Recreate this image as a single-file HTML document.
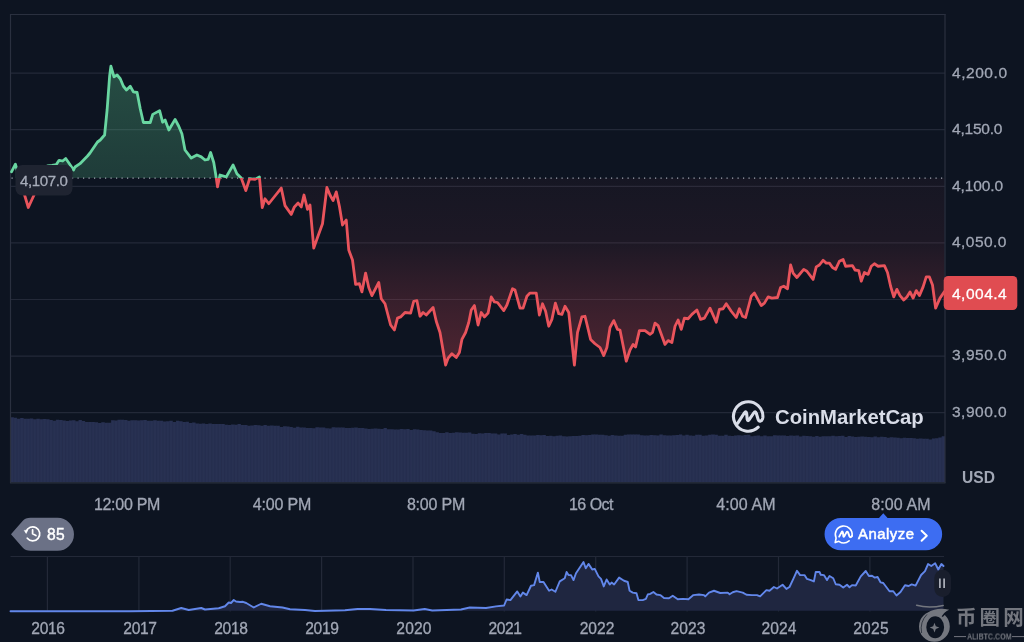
<!DOCTYPE html>
<html lang="en">
<head>
<meta charset="utf-8">
<title>Chart</title>
<style>
html,body{margin:0;padding:0;background:#0d1421;}
body{width:1024px;height:642px;overflow:hidden;position:relative;font-family:"Liberation Sans","Noto Sans CJK SC",sans-serif;}
#chart{position:absolute;left:0;top:0;width:1024px;height:642px;}
.t{position:absolute;white-space:nowrap;color:#a1a7b5;line-height:1;will-change:transform;-webkit-text-stroke:0.3px #a1a7b5;}
.yl{left:951.6px;font-size:15.5px;transform:translateY(-50%);}
.xl{top:505.2px;font-size:16px;transform:translate(-50%,-50%);}
.yr{top:629.0px;font-size:15.6px;transform:translate(-50%,-50%);}
</style>
</head>
<body>
<svg id="chart" width="1024" height="642" viewBox="0 0 1024 642">
<defs>
<linearGradient id="gg" gradientUnits="userSpaceOnUse" x1="0" y1="66" x2="0" y2="178">
<stop offset="0" stop-color="#5fcd91" stop-opacity="0.31"/>
<stop offset="1" stop-color="#5fcd91" stop-opacity="0.215"/>
</linearGradient>
<linearGradient id="rg" gradientUnits="userSpaceOnUse" x1="0" y1="178" x2="0" y2="366">
<stop offset="0" stop-color="#ea4c58" stop-opacity="0.04"/>
<stop offset="0.35" stop-color="#ea4c58" stop-opacity="0.075"/>
<stop offset="0.65" stop-color="#ea4c58" stop-opacity="0.19"/>
<stop offset="1" stop-color="#ea4c58" stop-opacity="0.30"/>
</linearGradient>
<clipPath id="cu"><rect x="0" y="0" width="1024" height="178.1"/></clipPath>
<clipPath id="cv"><path d="M10.5 482 L10.50 417.22 L13.74 417.22 L13.74 417.83 L16.99 417.83 L16.99 418.67 L20.23 418.67 L20.23 418.00 L23.48 418.00 L23.48 418.79 L26.72 418.79 L26.72 418.69 L29.97 418.69 L29.97 418.40 L33.21 418.40 L33.21 419.17 L36.46 419.17 L36.46 418.65 L39.70 418.65 L39.70 419.35 L42.95 419.35 L42.95 418.98 L46.19 418.98 L46.19 419.36 L49.44 419.36 L49.44 420.11 L52.68 420.11 L52.68 420.71 L55.93 420.71 L55.93 419.76 L59.17 419.76 L59.17 419.94 L62.42 419.94 L62.42 420.54 L65.66 420.54 L65.66 421.02 L68.91 421.02 L68.91 420.54 L72.15 420.54 L72.15 420.33 L75.40 420.33 L75.40 421.18 L78.64 421.18 L78.64 419.91 L81.89 419.91 L81.89 421.08 L85.13 421.08 L85.13 422.06 L88.38 422.06 L88.38 422.10 L91.62 422.10 L91.62 422.06 L94.86 422.06 L94.86 422.33 L98.11 422.33 L98.11 423.04 L101.35 423.04 L101.35 422.15 L104.60 422.15 L104.60 422.71 L107.84 422.71 L107.84 422.79 L111.09 422.79 L111.09 420.22 L114.33 420.22 L114.33 420.47 L117.58 420.47 L117.58 419.79 L120.82 419.79 L120.82 419.78 L124.07 419.78 L124.07 419.99 L127.31 419.99 L127.31 420.65 L130.56 420.65 L130.56 420.30 L133.80 420.30 L133.80 420.14 L137.05 420.14 L137.05 420.52 L140.29 420.52 L140.29 420.33 L143.54 420.33 L143.54 420.12 L146.78 420.12 L146.78 420.81 L150.03 420.81 L150.03 420.74 L153.27 420.74 L153.27 420.21 L156.52 420.21 L156.52 420.78 L159.76 420.78 L159.76 420.83 L163.01 420.83 L163.01 421.43 L166.25 421.43 L166.25 421.33 L169.49 421.33 L169.49 420.83 L172.74 420.83 L172.74 421.91 L175.98 421.91 L175.98 420.81 L179.23 420.81 L179.23 421.34 L182.47 421.34 L182.47 421.93 L185.72 421.93 L185.72 421.77 L188.96 421.77 L188.96 423.00 L192.21 423.00 L192.21 422.48 L195.45 422.48 L195.45 423.47 L198.70 423.47 L198.70 423.71 L201.94 423.71 L201.94 423.55 L205.19 423.55 L205.19 424.09 L208.43 424.09 L208.43 423.41 L211.68 423.41 L211.68 424.05 L214.92 424.05 L214.92 424.02 L218.17 424.02 L218.17 424.10 L221.41 424.10 L221.41 424.04 L224.66 424.04 L224.66 424.69 L227.90 424.69 L227.90 424.94 L231.15 424.94 L231.15 424.39 L234.39 424.39 L234.39 424.76 L237.64 424.76 L237.64 424.03 L240.88 424.03 L240.88 425.03 L244.12 425.03 L244.12 425.06 L247.37 425.06 L247.37 425.66 L250.61 425.66 L250.61 425.56 L253.86 425.56 L253.86 424.97 L257.10 424.97 L257.10 425.28 L260.35 425.28 L260.35 425.83 L263.59 425.83 L263.59 425.09 L266.84 425.09 L266.84 425.87 L270.08 425.87 L270.08 425.62 L273.33 425.62 L273.33 425.71 L276.57 425.71 L276.57 425.79 L279.82 425.79 L279.82 426.95 L283.06 426.95 L283.06 426.22 L286.31 426.22 L286.31 426.54 L289.55 426.54 L289.55 426.91 L292.80 426.91 L292.80 427.74 L296.04 427.74 L296.04 426.80 L299.29 426.80 L299.29 427.44 L302.53 427.44 L302.53 427.61 L305.78 427.61 L305.78 428.11 L309.02 428.11 L309.02 428.05 L312.27 428.05 L312.27 428.15 L315.51 428.15 L315.51 427.36 L318.76 427.36 L318.76 427.59 L322.00 427.59 L322.00 427.54 L325.24 427.54 L325.24 428.31 L328.49 428.31 L328.49 428.44 L331.73 428.44 L331.73 427.34 L334.98 427.34 L334.98 427.41 L338.22 427.41 L338.22 427.52 L341.47 427.52 L341.47 427.56 L344.71 427.56 L344.71 427.94 L347.96 427.94 L347.96 428.12 L351.20 428.12 L351.20 427.72 L354.45 427.72 L354.45 427.43 L357.69 427.43 L357.69 428.07 L360.94 428.07 L360.94 428.07 L364.18 428.07 L364.18 428.41 L367.43 428.41 L367.43 429.02 L370.67 429.02 L370.67 428.71 L373.92 428.71 L373.92 428.53 L377.16 428.53 L377.16 428.74 L380.41 428.74 L380.41 428.89 L383.65 428.89 L383.65 428.08 L386.90 428.08 L386.90 429.33 L390.14 429.33 L390.14 429.23 L393.39 429.23 L393.39 429.42 L396.63 429.42 L396.63 429.38 L399.88 429.38 L399.88 428.95 L403.12 428.95 L403.12 429.17 L406.36 429.17 L406.36 428.98 L409.61 428.98 L409.61 429.94 L412.85 429.94 L412.85 429.35 L416.10 429.35 L416.10 429.58 L419.34 429.58 L419.34 429.99 L422.59 429.99 L422.59 430.14 L425.83 430.14 L425.83 430.61 L429.08 430.61 L429.08 430.55 L432.32 430.55 L432.32 431.29 L435.57 431.29 L435.57 432.31 L438.81 432.31 L438.81 432.90 L442.06 432.90 L442.06 432.94 L445.30 432.94 L445.30 432.14 L448.55 432.14 L448.55 433.03 L451.79 433.03 L451.79 432.76 L455.04 432.76 L455.04 432.21 L458.28 432.21 L458.28 432.45 L461.53 432.45 L461.53 432.68 L464.77 432.68 L464.77 432.80 L468.02 432.80 L468.02 432.56 L471.26 432.56 L471.26 433.67 L474.51 433.67 L474.51 433.97 L477.75 433.97 L477.75 433.33 L480.99 433.33 L480.99 433.46 L484.24 433.46 L484.24 433.00 L487.48 433.00 L487.48 433.12 L490.73 433.12 L490.73 433.55 L493.97 433.55 L493.97 433.54 L497.22 433.54 L497.22 434.43 L500.46 434.43 L500.46 433.60 L503.71 433.60 L503.71 433.51 L506.95 433.51 L506.95 434.92 L510.20 434.92 L510.20 434.43 L513.44 434.43 L513.44 434.01 L516.69 434.01 L516.69 434.67 L519.93 434.67 L519.93 434.06 L523.18 434.06 L523.18 434.87 L526.42 434.87 L526.42 435.60 L529.67 435.60 L529.67 435.55 L532.91 435.55 L532.91 435.43 L536.16 435.43 L536.16 434.92 L539.40 434.92 L539.40 435.18 L542.65 435.18 L542.65 435.01 L545.89 435.01 L545.89 435.96 L549.14 435.96 L549.14 435.74 L552.38 435.74 L552.38 436.19 L555.62 436.19 L555.62 435.67 L558.87 435.67 L558.87 435.60 L562.11 435.60 L562.11 436.34 L565.36 436.34 L565.36 436.50 L568.60 436.50 L568.60 436.24 L571.85 436.24 L571.85 436.09 L575.09 436.09 L575.09 436.03 L578.34 436.03 L578.34 435.84 L581.58 435.84 L581.58 435.04 L584.83 435.04 L584.83 435.36 L588.07 435.36 L588.07 435.06 L591.32 435.06 L591.32 434.52 L594.56 434.52 L594.56 434.43 L597.81 434.43 L597.81 434.71 L601.05 434.71 L601.05 434.66 L604.30 434.66 L604.30 435.27 L607.54 435.27 L607.54 435.64 L610.79 435.64 L610.79 434.93 L614.03 434.93 L614.03 435.61 L617.28 435.61 L617.28 435.68 L620.52 435.68 L620.52 435.64 L623.77 435.64 L623.77 434.81 L627.01 434.81 L627.01 434.61 L630.26 434.61 L630.26 434.62 L633.50 434.62 L633.50 434.58 L636.74 434.58 L636.74 434.59 L639.99 434.59 L639.99 435.17 L643.23 435.17 L643.23 435.56 L646.48 435.56 L646.48 435.48 L649.72 435.48 L649.72 434.97 L652.97 434.97 L652.97 435.21 L656.21 435.21 L656.21 435.42 L659.46 435.42 L659.46 434.42 L662.70 434.42 L662.70 435.22 L665.95 435.22 L665.95 435.57 L669.19 435.57 L669.19 435.40 L672.44 435.40 L672.44 435.35 L675.68 435.35 L675.68 434.97 L678.93 434.97 L678.93 434.55 L682.17 434.55 L682.17 435.40 L685.42 435.40 L685.42 434.77 L688.66 434.77 L688.66 435.42 L691.91 435.42 L691.91 435.66 L695.15 435.66 L695.15 434.85 L698.40 434.85 L698.40 434.86 L701.64 434.86 L701.64 435.66 L704.89 435.66 L704.89 435.38 L708.13 435.38 L708.13 434.64 L711.37 434.64 L711.38 434.61 L714.62 434.61 L714.62 434.67 L717.86 434.67 L717.86 435.76 L721.11 435.76 L721.11 435.66 L724.35 435.66 L724.35 434.76 L727.60 434.76 L727.60 435.75 L730.84 435.75 L730.84 436.00 L734.09 436.00 L734.09 435.58 L737.33 435.58 L737.33 435.18 L740.58 435.18 L740.58 435.49 L743.82 435.49 L743.82 434.94 L747.07 434.94 L747.07 434.81 L750.31 434.81 L750.31 436.18 L753.56 436.18 L753.56 435.76 L756.80 435.76 L756.80 435.62 L760.05 435.62 L760.05 436.22 L763.29 436.22 L763.29 435.56 L766.54 435.56 L766.54 436.20 L769.78 436.20 L769.78 436.17 L773.03 436.17 L773.03 435.34 L776.27 435.34 L776.27 435.43 L779.52 435.43 L779.52 435.52 L782.76 435.52 L782.76 435.48 L786.01 435.48 L786.01 436.00 L789.25 436.00 L789.25 435.57 L792.49 435.57 L792.49 435.83 L795.74 435.83 L795.74 435.46 L798.98 435.46 L798.98 436.58 L802.23 436.58 L802.23 435.83 L805.47 435.83 L805.47 436.01 L808.72 436.01 L808.72 436.22 L811.96 436.22 L811.96 436.70 L815.21 436.70 L815.21 436.06 L818.45 436.06 L818.45 436.79 L821.70 436.79 L821.70 436.24 L824.94 436.24 L824.94 436.31 L828.19 436.31 L828.19 436.33 L831.43 436.33 L831.43 435.66 L834.68 435.66 L834.68 436.28 L837.92 436.28 L837.92 435.95 L841.17 435.95 L841.17 435.73 L844.41 435.73 L844.41 436.88 L847.66 436.88 L847.66 436.03 L850.90 436.03 L850.90 436.51 L854.15 436.51 L854.15 436.93 L857.39 436.93 L857.39 436.76 L860.64 436.76 L860.64 436.50 L863.88 436.50 L863.88 436.84 L867.12 436.84 L867.12 436.95 L870.37 436.95 L870.37 437.34 L873.61 437.34 L873.61 436.45 L876.86 436.45 L876.86 437.15 L880.10 437.15 L880.10 436.78 L883.35 436.78 L883.35 436.89 L886.59 436.89 L886.59 437.65 L889.84 437.65 L889.84 437.34 L893.08 437.34 L893.08 437.48 L896.33 437.48 L896.33 437.82 L899.57 437.82 L899.57 438.14 L902.82 438.14 L902.82 437.64 L906.06 437.64 L906.06 438.04 L909.31 438.04 L909.31 438.05 L912.55 438.05 L912.55 438.23 L915.80 438.23 L915.80 438.64 L919.04 438.64 L919.04 438.47 L922.29 438.47 L922.29 438.74 L925.53 438.74 L925.53 438.83 L928.78 438.83 L928.78 439.54 L932.02 439.54 L932.02 438.55 L935.27 438.55 L935.27 438.15 L938.51 438.15 L938.51 437.61 L941.76 437.61 L941.76 436.33 L945.00 436.33 L945 482 Z"/></clipPath>
<clipPath id="cd"><rect x="0" y="178.1" width="1024" height="400"/></clipPath>
</defs>
<rect width="1024" height="642" fill="#0d1421"/>
<g stroke="#232938" stroke-width="1.2" fill="none"><line x1="10" y1="73.1" x2="945" y2="73.1"/><line x1="10" y1="129.7" x2="945" y2="129.7"/><line x1="10" y1="186.3" x2="945" y2="186.3"/><line x1="10" y1="242.9" x2="945" y2="242.9"/><line x1="10" y1="299.5" x2="945" y2="299.5"/><line x1="10" y1="356.1" x2="945" y2="356.1"/><line x1="10" y1="412.7" x2="945" y2="412.7"/></g>
<path d="M15.40 178.10 L15.40 164.20 L28.30 207.50 L34.50 194.00 L47.50 166.00 L52.00 165.40 L56.30 164.60 L59.10 160.30 L62.70 161.00 L65.70 158.50 L68.20 162.00 L73.60 170.00 L75.00 167.00 L80.00 163.70 L87.50 156.00 L90.00 153.00 L97.50 142.00 L100.25 140.00 L104.60 135.00 L107.10 110.00 L109.60 76.25 L110.90 66.25 L114.00 76.90 L117.10 75.00 L120.25 78.75 L123.40 86.25 L126.50 90.00 L130.25 86.25 L133.40 91.90 L137.10 92.50 L140.25 108.75 L143.40 122.50 L150.25 122.50 L152.75 114.40 L159.60 110.60 L162.60 122.20 L165.10 120.00 L168.85 130.00 L175.10 119.40 L178.75 126.25 L181.90 133.75 L185.00 150.00 L191.25 158.10 L196.90 155.00 L201.25 156.90 L205.00 160.00 L208.10 159.40 L210.60 152.50 L213.75 162.50 L215.60 173.75 L216.25 178.10 L217.50 186.90 L220.00 175.00 L226.25 176.90 L233.10 165.00 L236.90 173.75 L241.25 178.10 L245.80 190.60 L249.60 178.75 L255.00 179.40 L259.40 176.90 L262.25 207.50 L265.00 198.75 L268.75 203.75 L273.75 197.50 L281.25 188.10 L285.00 205.60 L291.25 214.40 L294.40 206.90 L298.10 203.10 L301.25 206.90 L304.00 195.00 L307.50 209.40 L310.00 205.00 L313.75 248.10 L317.50 237.50 L322.50 223.75 L326.90 187.50 L330.00 195.00 L333.10 200.60 L336.25 191.90 L339.40 206.25 L342.50 225.00 L346.25 220.00 L348.75 250.00 L352.50 260.00 L355.60 284.40 L359.40 283.75 L361.90 291.90 L365.60 273.10 L368.75 287.50 L371.90 295.60 L378.75 282.50 L381.25 298.75 L385.00 303.75 L390.60 325.00 L394.40 330.00 L397.50 318.10 L400.60 316.90 L405.00 312.50 L410.60 313.10 L413.75 301.25 L416.90 300.60 L420.00 316.25 L423.10 312.50 L426.25 315.00 L433.10 307.50 L436.25 321.25 L440.00 332.50 L445.60 365.00 L448.10 358.10 L451.90 353.75 L456.25 357.50 L459.40 352.50 L461.90 339.40 L465.60 332.50 L468.75 322.50 L471.25 310.00 L474.40 305.60 L478.10 325.00 L481.25 312.50 L484.40 316.90 L488.10 313.10 L491.25 296.90 L494.40 301.90 L497.50 302.50 L503.75 310.60 L506.90 305.00 L512.50 288.75 L515.00 290.00 L520.00 308.10 L523.10 308.10 L526.90 296.25 L530.00 293.10 L536.25 293.10 L539.40 315.00 L542.50 303.75 L545.60 311.25 L548.75 326.25 L551.90 319.40 L555.40 303.10 L558.75 313.75 L561.90 314.40 L565.00 306.25 L568.75 312.50 L574.40 365.00 L577.50 332.50 L581.90 316.90 L585.00 316.25 L590.60 339.40 L595.00 343.75 L600.00 347.50 L603.75 355.60 L606.90 347.50 L610.00 327.50 L613.75 320.60 L617.50 329.40 L620.00 330.00 L626.25 361.25 L630.00 350.00 L633.10 344.40 L635.60 346.90 L639.40 330.60 L645.00 330.60 L650.00 334.40 L652.50 332.50 L655.00 323.10 L658.10 325.60 L665.00 344.40 L668.10 340.60 L671.90 342.50 L675.00 326.25 L678.10 320.00 L681.25 329.40 L684.40 318.10 L688.10 318.75 L691.90 314.40 L696.90 310.00 L700.60 319.40 L704.40 318.10 L710.00 308.10 L716.25 322.20 L719.40 309.40 L723.10 308.75 L726.25 303.75 L731.25 311.25 L736.25 317.50 L739.40 308.75 L742.50 316.25 L745.60 317.50 L751.25 296.25 L754.40 293.10 L761.25 305.60 L764.40 303.10 L768.10 296.90 L771.90 298.10 L777.50 297.50 L780.60 287.50 L783.75 286.25 L787.50 288.75 L790.60 265.00 L793.10 273.10 L796.90 277.50 L803.75 269.40 L806.90 271.25 L813.10 279.40 L816.25 266.90 L819.40 265.00 L823.10 260.30 L826.25 263.10 L829.40 263.10 L832.50 267.50 L835.60 269.40 L839.40 261.25 L843.10 259.40 L845.60 266.25 L852.50 265.60 L855.00 270.00 L858.75 270.60 L861.25 281.25 L864.40 272.50 L868.10 274.40 L871.25 266.25 L874.40 263.75 L878.10 266.25 L884.40 265.60 L887.50 272.50 L890.60 286.25 L893.75 296.90 L896.90 289.40 L900.00 295.60 L903.75 300.00 L906.90 296.90 L910.00 291.90 L913.10 298.10 L916.25 290.60 L919.40 295.60 L923.10 286.90 L926.25 276.90 L929.40 276.90 L932.50 285.00 L935.60 308.10 L940.00 298.10 L944.50 291.50 L944.50 178.10 Z" fill="url(#gg)" clip-path="url(#cu)"/>
<path d="M15.40 178.10 L15.40 164.20 L28.30 207.50 L34.50 194.00 L47.50 166.00 L52.00 165.40 L56.30 164.60 L59.10 160.30 L62.70 161.00 L65.70 158.50 L68.20 162.00 L73.60 170.00 L75.00 167.00 L80.00 163.70 L87.50 156.00 L90.00 153.00 L97.50 142.00 L100.25 140.00 L104.60 135.00 L107.10 110.00 L109.60 76.25 L110.90 66.25 L114.00 76.90 L117.10 75.00 L120.25 78.75 L123.40 86.25 L126.50 90.00 L130.25 86.25 L133.40 91.90 L137.10 92.50 L140.25 108.75 L143.40 122.50 L150.25 122.50 L152.75 114.40 L159.60 110.60 L162.60 122.20 L165.10 120.00 L168.85 130.00 L175.10 119.40 L178.75 126.25 L181.90 133.75 L185.00 150.00 L191.25 158.10 L196.90 155.00 L201.25 156.90 L205.00 160.00 L208.10 159.40 L210.60 152.50 L213.75 162.50 L215.60 173.75 L216.25 178.10 L217.50 186.90 L220.00 175.00 L226.25 176.90 L233.10 165.00 L236.90 173.75 L241.25 178.10 L245.80 190.60 L249.60 178.75 L255.00 179.40 L259.40 176.90 L262.25 207.50 L265.00 198.75 L268.75 203.75 L273.75 197.50 L281.25 188.10 L285.00 205.60 L291.25 214.40 L294.40 206.90 L298.10 203.10 L301.25 206.90 L304.00 195.00 L307.50 209.40 L310.00 205.00 L313.75 248.10 L317.50 237.50 L322.50 223.75 L326.90 187.50 L330.00 195.00 L333.10 200.60 L336.25 191.90 L339.40 206.25 L342.50 225.00 L346.25 220.00 L348.75 250.00 L352.50 260.00 L355.60 284.40 L359.40 283.75 L361.90 291.90 L365.60 273.10 L368.75 287.50 L371.90 295.60 L378.75 282.50 L381.25 298.75 L385.00 303.75 L390.60 325.00 L394.40 330.00 L397.50 318.10 L400.60 316.90 L405.00 312.50 L410.60 313.10 L413.75 301.25 L416.90 300.60 L420.00 316.25 L423.10 312.50 L426.25 315.00 L433.10 307.50 L436.25 321.25 L440.00 332.50 L445.60 365.00 L448.10 358.10 L451.90 353.75 L456.25 357.50 L459.40 352.50 L461.90 339.40 L465.60 332.50 L468.75 322.50 L471.25 310.00 L474.40 305.60 L478.10 325.00 L481.25 312.50 L484.40 316.90 L488.10 313.10 L491.25 296.90 L494.40 301.90 L497.50 302.50 L503.75 310.60 L506.90 305.00 L512.50 288.75 L515.00 290.00 L520.00 308.10 L523.10 308.10 L526.90 296.25 L530.00 293.10 L536.25 293.10 L539.40 315.00 L542.50 303.75 L545.60 311.25 L548.75 326.25 L551.90 319.40 L555.40 303.10 L558.75 313.75 L561.90 314.40 L565.00 306.25 L568.75 312.50 L574.40 365.00 L577.50 332.50 L581.90 316.90 L585.00 316.25 L590.60 339.40 L595.00 343.75 L600.00 347.50 L603.75 355.60 L606.90 347.50 L610.00 327.50 L613.75 320.60 L617.50 329.40 L620.00 330.00 L626.25 361.25 L630.00 350.00 L633.10 344.40 L635.60 346.90 L639.40 330.60 L645.00 330.60 L650.00 334.40 L652.50 332.50 L655.00 323.10 L658.10 325.60 L665.00 344.40 L668.10 340.60 L671.90 342.50 L675.00 326.25 L678.10 320.00 L681.25 329.40 L684.40 318.10 L688.10 318.75 L691.90 314.40 L696.90 310.00 L700.60 319.40 L704.40 318.10 L710.00 308.10 L716.25 322.20 L719.40 309.40 L723.10 308.75 L726.25 303.75 L731.25 311.25 L736.25 317.50 L739.40 308.75 L742.50 316.25 L745.60 317.50 L751.25 296.25 L754.40 293.10 L761.25 305.60 L764.40 303.10 L768.10 296.90 L771.90 298.10 L777.50 297.50 L780.60 287.50 L783.75 286.25 L787.50 288.75 L790.60 265.00 L793.10 273.10 L796.90 277.50 L803.75 269.40 L806.90 271.25 L813.10 279.40 L816.25 266.90 L819.40 265.00 L823.10 260.30 L826.25 263.10 L829.40 263.10 L832.50 267.50 L835.60 269.40 L839.40 261.25 L843.10 259.40 L845.60 266.25 L852.50 265.60 L855.00 270.00 L858.75 270.60 L861.25 281.25 L864.40 272.50 L868.10 274.40 L871.25 266.25 L874.40 263.75 L878.10 266.25 L884.40 265.60 L887.50 272.50 L890.60 286.25 L893.75 296.90 L896.90 289.40 L900.00 295.60 L903.75 300.00 L906.90 296.90 L910.00 291.90 L913.10 298.10 L916.25 290.60 L919.40 295.60 L923.10 286.90 L926.25 276.90 L929.40 276.90 L932.50 285.00 L935.60 308.10 L940.00 298.10 L944.50 291.50 L944.50 178.10 Z" fill="url(#rg)" clip-path="url(#cd)"/>
<path d="M10.5 482 L10.50 417.22 L13.74 417.22 L13.74 417.83 L16.99 417.83 L16.99 418.67 L20.23 418.67 L20.23 418.00 L23.48 418.00 L23.48 418.79 L26.72 418.79 L26.72 418.69 L29.97 418.69 L29.97 418.40 L33.21 418.40 L33.21 419.17 L36.46 419.17 L36.46 418.65 L39.70 418.65 L39.70 419.35 L42.95 419.35 L42.95 418.98 L46.19 418.98 L46.19 419.36 L49.44 419.36 L49.44 420.11 L52.68 420.11 L52.68 420.71 L55.93 420.71 L55.93 419.76 L59.17 419.76 L59.17 419.94 L62.42 419.94 L62.42 420.54 L65.66 420.54 L65.66 421.02 L68.91 421.02 L68.91 420.54 L72.15 420.54 L72.15 420.33 L75.40 420.33 L75.40 421.18 L78.64 421.18 L78.64 419.91 L81.89 419.91 L81.89 421.08 L85.13 421.08 L85.13 422.06 L88.38 422.06 L88.38 422.10 L91.62 422.10 L91.62 422.06 L94.86 422.06 L94.86 422.33 L98.11 422.33 L98.11 423.04 L101.35 423.04 L101.35 422.15 L104.60 422.15 L104.60 422.71 L107.84 422.71 L107.84 422.79 L111.09 422.79 L111.09 420.22 L114.33 420.22 L114.33 420.47 L117.58 420.47 L117.58 419.79 L120.82 419.79 L120.82 419.78 L124.07 419.78 L124.07 419.99 L127.31 419.99 L127.31 420.65 L130.56 420.65 L130.56 420.30 L133.80 420.30 L133.80 420.14 L137.05 420.14 L137.05 420.52 L140.29 420.52 L140.29 420.33 L143.54 420.33 L143.54 420.12 L146.78 420.12 L146.78 420.81 L150.03 420.81 L150.03 420.74 L153.27 420.74 L153.27 420.21 L156.52 420.21 L156.52 420.78 L159.76 420.78 L159.76 420.83 L163.01 420.83 L163.01 421.43 L166.25 421.43 L166.25 421.33 L169.49 421.33 L169.49 420.83 L172.74 420.83 L172.74 421.91 L175.98 421.91 L175.98 420.81 L179.23 420.81 L179.23 421.34 L182.47 421.34 L182.47 421.93 L185.72 421.93 L185.72 421.77 L188.96 421.77 L188.96 423.00 L192.21 423.00 L192.21 422.48 L195.45 422.48 L195.45 423.47 L198.70 423.47 L198.70 423.71 L201.94 423.71 L201.94 423.55 L205.19 423.55 L205.19 424.09 L208.43 424.09 L208.43 423.41 L211.68 423.41 L211.68 424.05 L214.92 424.05 L214.92 424.02 L218.17 424.02 L218.17 424.10 L221.41 424.10 L221.41 424.04 L224.66 424.04 L224.66 424.69 L227.90 424.69 L227.90 424.94 L231.15 424.94 L231.15 424.39 L234.39 424.39 L234.39 424.76 L237.64 424.76 L237.64 424.03 L240.88 424.03 L240.88 425.03 L244.12 425.03 L244.12 425.06 L247.37 425.06 L247.37 425.66 L250.61 425.66 L250.61 425.56 L253.86 425.56 L253.86 424.97 L257.10 424.97 L257.10 425.28 L260.35 425.28 L260.35 425.83 L263.59 425.83 L263.59 425.09 L266.84 425.09 L266.84 425.87 L270.08 425.87 L270.08 425.62 L273.33 425.62 L273.33 425.71 L276.57 425.71 L276.57 425.79 L279.82 425.79 L279.82 426.95 L283.06 426.95 L283.06 426.22 L286.31 426.22 L286.31 426.54 L289.55 426.54 L289.55 426.91 L292.80 426.91 L292.80 427.74 L296.04 427.74 L296.04 426.80 L299.29 426.80 L299.29 427.44 L302.53 427.44 L302.53 427.61 L305.78 427.61 L305.78 428.11 L309.02 428.11 L309.02 428.05 L312.27 428.05 L312.27 428.15 L315.51 428.15 L315.51 427.36 L318.76 427.36 L318.76 427.59 L322.00 427.59 L322.00 427.54 L325.24 427.54 L325.24 428.31 L328.49 428.31 L328.49 428.44 L331.73 428.44 L331.73 427.34 L334.98 427.34 L334.98 427.41 L338.22 427.41 L338.22 427.52 L341.47 427.52 L341.47 427.56 L344.71 427.56 L344.71 427.94 L347.96 427.94 L347.96 428.12 L351.20 428.12 L351.20 427.72 L354.45 427.72 L354.45 427.43 L357.69 427.43 L357.69 428.07 L360.94 428.07 L360.94 428.07 L364.18 428.07 L364.18 428.41 L367.43 428.41 L367.43 429.02 L370.67 429.02 L370.67 428.71 L373.92 428.71 L373.92 428.53 L377.16 428.53 L377.16 428.74 L380.41 428.74 L380.41 428.89 L383.65 428.89 L383.65 428.08 L386.90 428.08 L386.90 429.33 L390.14 429.33 L390.14 429.23 L393.39 429.23 L393.39 429.42 L396.63 429.42 L396.63 429.38 L399.88 429.38 L399.88 428.95 L403.12 428.95 L403.12 429.17 L406.36 429.17 L406.36 428.98 L409.61 428.98 L409.61 429.94 L412.85 429.94 L412.85 429.35 L416.10 429.35 L416.10 429.58 L419.34 429.58 L419.34 429.99 L422.59 429.99 L422.59 430.14 L425.83 430.14 L425.83 430.61 L429.08 430.61 L429.08 430.55 L432.32 430.55 L432.32 431.29 L435.57 431.29 L435.57 432.31 L438.81 432.31 L438.81 432.90 L442.06 432.90 L442.06 432.94 L445.30 432.94 L445.30 432.14 L448.55 432.14 L448.55 433.03 L451.79 433.03 L451.79 432.76 L455.04 432.76 L455.04 432.21 L458.28 432.21 L458.28 432.45 L461.53 432.45 L461.53 432.68 L464.77 432.68 L464.77 432.80 L468.02 432.80 L468.02 432.56 L471.26 432.56 L471.26 433.67 L474.51 433.67 L474.51 433.97 L477.75 433.97 L477.75 433.33 L480.99 433.33 L480.99 433.46 L484.24 433.46 L484.24 433.00 L487.48 433.00 L487.48 433.12 L490.73 433.12 L490.73 433.55 L493.97 433.55 L493.97 433.54 L497.22 433.54 L497.22 434.43 L500.46 434.43 L500.46 433.60 L503.71 433.60 L503.71 433.51 L506.95 433.51 L506.95 434.92 L510.20 434.92 L510.20 434.43 L513.44 434.43 L513.44 434.01 L516.69 434.01 L516.69 434.67 L519.93 434.67 L519.93 434.06 L523.18 434.06 L523.18 434.87 L526.42 434.87 L526.42 435.60 L529.67 435.60 L529.67 435.55 L532.91 435.55 L532.91 435.43 L536.16 435.43 L536.16 434.92 L539.40 434.92 L539.40 435.18 L542.65 435.18 L542.65 435.01 L545.89 435.01 L545.89 435.96 L549.14 435.96 L549.14 435.74 L552.38 435.74 L552.38 436.19 L555.62 436.19 L555.62 435.67 L558.87 435.67 L558.87 435.60 L562.11 435.60 L562.11 436.34 L565.36 436.34 L565.36 436.50 L568.60 436.50 L568.60 436.24 L571.85 436.24 L571.85 436.09 L575.09 436.09 L575.09 436.03 L578.34 436.03 L578.34 435.84 L581.58 435.84 L581.58 435.04 L584.83 435.04 L584.83 435.36 L588.07 435.36 L588.07 435.06 L591.32 435.06 L591.32 434.52 L594.56 434.52 L594.56 434.43 L597.81 434.43 L597.81 434.71 L601.05 434.71 L601.05 434.66 L604.30 434.66 L604.30 435.27 L607.54 435.27 L607.54 435.64 L610.79 435.64 L610.79 434.93 L614.03 434.93 L614.03 435.61 L617.28 435.61 L617.28 435.68 L620.52 435.68 L620.52 435.64 L623.77 435.64 L623.77 434.81 L627.01 434.81 L627.01 434.61 L630.26 434.61 L630.26 434.62 L633.50 434.62 L633.50 434.58 L636.74 434.58 L636.74 434.59 L639.99 434.59 L639.99 435.17 L643.23 435.17 L643.23 435.56 L646.48 435.56 L646.48 435.48 L649.72 435.48 L649.72 434.97 L652.97 434.97 L652.97 435.21 L656.21 435.21 L656.21 435.42 L659.46 435.42 L659.46 434.42 L662.70 434.42 L662.70 435.22 L665.95 435.22 L665.95 435.57 L669.19 435.57 L669.19 435.40 L672.44 435.40 L672.44 435.35 L675.68 435.35 L675.68 434.97 L678.93 434.97 L678.93 434.55 L682.17 434.55 L682.17 435.40 L685.42 435.40 L685.42 434.77 L688.66 434.77 L688.66 435.42 L691.91 435.42 L691.91 435.66 L695.15 435.66 L695.15 434.85 L698.40 434.85 L698.40 434.86 L701.64 434.86 L701.64 435.66 L704.89 435.66 L704.89 435.38 L708.13 435.38 L708.13 434.64 L711.37 434.64 L711.38 434.61 L714.62 434.61 L714.62 434.67 L717.86 434.67 L717.86 435.76 L721.11 435.76 L721.11 435.66 L724.35 435.66 L724.35 434.76 L727.60 434.76 L727.60 435.75 L730.84 435.75 L730.84 436.00 L734.09 436.00 L734.09 435.58 L737.33 435.58 L737.33 435.18 L740.58 435.18 L740.58 435.49 L743.82 435.49 L743.82 434.94 L747.07 434.94 L747.07 434.81 L750.31 434.81 L750.31 436.18 L753.56 436.18 L753.56 435.76 L756.80 435.76 L756.80 435.62 L760.05 435.62 L760.05 436.22 L763.29 436.22 L763.29 435.56 L766.54 435.56 L766.54 436.20 L769.78 436.20 L769.78 436.17 L773.03 436.17 L773.03 435.34 L776.27 435.34 L776.27 435.43 L779.52 435.43 L779.52 435.52 L782.76 435.52 L782.76 435.48 L786.01 435.48 L786.01 436.00 L789.25 436.00 L789.25 435.57 L792.49 435.57 L792.49 435.83 L795.74 435.83 L795.74 435.46 L798.98 435.46 L798.98 436.58 L802.23 436.58 L802.23 435.83 L805.47 435.83 L805.47 436.01 L808.72 436.01 L808.72 436.22 L811.96 436.22 L811.96 436.70 L815.21 436.70 L815.21 436.06 L818.45 436.06 L818.45 436.79 L821.70 436.79 L821.70 436.24 L824.94 436.24 L824.94 436.31 L828.19 436.31 L828.19 436.33 L831.43 436.33 L831.43 435.66 L834.68 435.66 L834.68 436.28 L837.92 436.28 L837.92 435.95 L841.17 435.95 L841.17 435.73 L844.41 435.73 L844.41 436.88 L847.66 436.88 L847.66 436.03 L850.90 436.03 L850.90 436.51 L854.15 436.51 L854.15 436.93 L857.39 436.93 L857.39 436.76 L860.64 436.76 L860.64 436.50 L863.88 436.50 L863.88 436.84 L867.12 436.84 L867.12 436.95 L870.37 436.95 L870.37 437.34 L873.61 437.34 L873.61 436.45 L876.86 436.45 L876.86 437.15 L880.10 437.15 L880.10 436.78 L883.35 436.78 L883.35 436.89 L886.59 436.89 L886.59 437.65 L889.84 437.65 L889.84 437.34 L893.08 437.34 L893.08 437.48 L896.33 437.48 L896.33 437.82 L899.57 437.82 L899.57 438.14 L902.82 438.14 L902.82 437.64 L906.06 437.64 L906.06 438.04 L909.31 438.04 L909.31 438.05 L912.55 438.05 L912.55 438.23 L915.80 438.23 L915.80 438.64 L919.04 438.64 L919.04 438.47 L922.29 438.47 L922.29 438.74 L925.53 438.74 L925.53 438.83 L928.78 438.83 L928.78 439.54 L932.02 439.54 L932.02 438.55 L935.27 438.55 L935.27 438.15 L938.51 438.15 L938.51 437.61 L941.76 437.61 L941.76 436.33 L945.00 436.33 L945 482 Z" fill="#283152"/>
<g stroke="#242c4b" stroke-width="0.6" clip-path="url(#cv)"><line x1="13.74" y1="417" x2="13.74" y2="482"/><line x1="16.99" y1="417" x2="16.99" y2="482"/><line x1="20.23" y1="417" x2="20.23" y2="482"/><line x1="23.48" y1="417" x2="23.48" y2="482"/><line x1="26.72" y1="417" x2="26.72" y2="482"/><line x1="29.97" y1="417" x2="29.97" y2="482"/><line x1="33.21" y1="417" x2="33.21" y2="482"/><line x1="36.46" y1="417" x2="36.46" y2="482"/><line x1="39.70" y1="417" x2="39.70" y2="482"/><line x1="42.95" y1="417" x2="42.95" y2="482"/><line x1="46.19" y1="417" x2="46.19" y2="482"/><line x1="49.44" y1="417" x2="49.44" y2="482"/><line x1="52.68" y1="417" x2="52.68" y2="482"/><line x1="55.93" y1="417" x2="55.93" y2="482"/><line x1="59.17" y1="417" x2="59.17" y2="482"/><line x1="62.42" y1="417" x2="62.42" y2="482"/><line x1="65.66" y1="417" x2="65.66" y2="482"/><line x1="68.91" y1="417" x2="68.91" y2="482"/><line x1="72.15" y1="417" x2="72.15" y2="482"/><line x1="75.40" y1="417" x2="75.40" y2="482"/><line x1="78.64" y1="417" x2="78.64" y2="482"/><line x1="81.89" y1="417" x2="81.89" y2="482"/><line x1="85.13" y1="417" x2="85.13" y2="482"/><line x1="88.38" y1="417" x2="88.38" y2="482"/><line x1="91.62" y1="417" x2="91.62" y2="482"/><line x1="94.86" y1="417" x2="94.86" y2="482"/><line x1="98.11" y1="417" x2="98.11" y2="482"/><line x1="101.35" y1="417" x2="101.35" y2="482"/><line x1="104.60" y1="417" x2="104.60" y2="482"/><line x1="107.84" y1="417" x2="107.84" y2="482"/><line x1="111.09" y1="417" x2="111.09" y2="482"/><line x1="114.33" y1="417" x2="114.33" y2="482"/><line x1="117.58" y1="417" x2="117.58" y2="482"/><line x1="120.82" y1="417" x2="120.82" y2="482"/><line x1="124.07" y1="417" x2="124.07" y2="482"/><line x1="127.31" y1="417" x2="127.31" y2="482"/><line x1="130.56" y1="417" x2="130.56" y2="482"/><line x1="133.80" y1="417" x2="133.80" y2="482"/><line x1="137.05" y1="417" x2="137.05" y2="482"/><line x1="140.29" y1="417" x2="140.29" y2="482"/><line x1="143.54" y1="417" x2="143.54" y2="482"/><line x1="146.78" y1="417" x2="146.78" y2="482"/><line x1="150.03" y1="417" x2="150.03" y2="482"/><line x1="153.27" y1="417" x2="153.27" y2="482"/><line x1="156.52" y1="417" x2="156.52" y2="482"/><line x1="159.76" y1="417" x2="159.76" y2="482"/><line x1="163.01" y1="417" x2="163.01" y2="482"/><line x1="166.25" y1="417" x2="166.25" y2="482"/><line x1="169.49" y1="417" x2="169.49" y2="482"/><line x1="172.74" y1="417" x2="172.74" y2="482"/><line x1="175.98" y1="417" x2="175.98" y2="482"/><line x1="179.23" y1="417" x2="179.23" y2="482"/><line x1="182.47" y1="417" x2="182.47" y2="482"/><line x1="185.72" y1="417" x2="185.72" y2="482"/><line x1="188.96" y1="417" x2="188.96" y2="482"/><line x1="192.21" y1="417" x2="192.21" y2="482"/><line x1="195.45" y1="417" x2="195.45" y2="482"/><line x1="198.70" y1="417" x2="198.70" y2="482"/><line x1="201.94" y1="417" x2="201.94" y2="482"/><line x1="205.19" y1="417" x2="205.19" y2="482"/><line x1="208.43" y1="417" x2="208.43" y2="482"/><line x1="211.68" y1="417" x2="211.68" y2="482"/><line x1="214.92" y1="417" x2="214.92" y2="482"/><line x1="218.17" y1="417" x2="218.17" y2="482"/><line x1="221.41" y1="417" x2="221.41" y2="482"/><line x1="224.66" y1="417" x2="224.66" y2="482"/><line x1="227.90" y1="417" x2="227.90" y2="482"/><line x1="231.15" y1="417" x2="231.15" y2="482"/><line x1="234.39" y1="417" x2="234.39" y2="482"/><line x1="237.64" y1="417" x2="237.64" y2="482"/><line x1="240.88" y1="417" x2="240.88" y2="482"/><line x1="244.12" y1="417" x2="244.12" y2="482"/><line x1="247.37" y1="417" x2="247.37" y2="482"/><line x1="250.61" y1="417" x2="250.61" y2="482"/><line x1="253.86" y1="417" x2="253.86" y2="482"/><line x1="257.10" y1="417" x2="257.10" y2="482"/><line x1="260.35" y1="417" x2="260.35" y2="482"/><line x1="263.59" y1="417" x2="263.59" y2="482"/><line x1="266.84" y1="417" x2="266.84" y2="482"/><line x1="270.08" y1="417" x2="270.08" y2="482"/><line x1="273.33" y1="417" x2="273.33" y2="482"/><line x1="276.57" y1="417" x2="276.57" y2="482"/><line x1="279.82" y1="417" x2="279.82" y2="482"/><line x1="283.06" y1="417" x2="283.06" y2="482"/><line x1="286.31" y1="417" x2="286.31" y2="482"/><line x1="289.55" y1="417" x2="289.55" y2="482"/><line x1="292.80" y1="417" x2="292.80" y2="482"/><line x1="296.04" y1="417" x2="296.04" y2="482"/><line x1="299.29" y1="417" x2="299.29" y2="482"/><line x1="302.53" y1="417" x2="302.53" y2="482"/><line x1="305.78" y1="417" x2="305.78" y2="482"/><line x1="309.02" y1="417" x2="309.02" y2="482"/><line x1="312.27" y1="417" x2="312.27" y2="482"/><line x1="315.51" y1="417" x2="315.51" y2="482"/><line x1="318.76" y1="417" x2="318.76" y2="482"/><line x1="322.00" y1="417" x2="322.00" y2="482"/><line x1="325.24" y1="417" x2="325.24" y2="482"/><line x1="328.49" y1="417" x2="328.49" y2="482"/><line x1="331.73" y1="417" x2="331.73" y2="482"/><line x1="334.98" y1="417" x2="334.98" y2="482"/><line x1="338.22" y1="417" x2="338.22" y2="482"/><line x1="341.47" y1="417" x2="341.47" y2="482"/><line x1="344.71" y1="417" x2="344.71" y2="482"/><line x1="347.96" y1="417" x2="347.96" y2="482"/><line x1="351.20" y1="417" x2="351.20" y2="482"/><line x1="354.45" y1="417" x2="354.45" y2="482"/><line x1="357.69" y1="417" x2="357.69" y2="482"/><line x1="360.94" y1="417" x2="360.94" y2="482"/><line x1="364.18" y1="417" x2="364.18" y2="482"/><line x1="367.43" y1="417" x2="367.43" y2="482"/><line x1="370.67" y1="417" x2="370.67" y2="482"/><line x1="373.92" y1="417" x2="373.92" y2="482"/><line x1="377.16" y1="417" x2="377.16" y2="482"/><line x1="380.41" y1="417" x2="380.41" y2="482"/><line x1="383.65" y1="417" x2="383.65" y2="482"/><line x1="386.90" y1="417" x2="386.90" y2="482"/><line x1="390.14" y1="417" x2="390.14" y2="482"/><line x1="393.39" y1="417" x2="393.39" y2="482"/><line x1="396.63" y1="417" x2="396.63" y2="482"/><line x1="399.88" y1="417" x2="399.88" y2="482"/><line x1="403.12" y1="417" x2="403.12" y2="482"/><line x1="406.36" y1="417" x2="406.36" y2="482"/><line x1="409.61" y1="417" x2="409.61" y2="482"/><line x1="412.85" y1="417" x2="412.85" y2="482"/><line x1="416.10" y1="417" x2="416.10" y2="482"/><line x1="419.34" y1="417" x2="419.34" y2="482"/><line x1="422.59" y1="417" x2="422.59" y2="482"/><line x1="425.83" y1="417" x2="425.83" y2="482"/><line x1="429.08" y1="417" x2="429.08" y2="482"/><line x1="432.32" y1="417" x2="432.32" y2="482"/><line x1="435.57" y1="417" x2="435.57" y2="482"/><line x1="438.81" y1="417" x2="438.81" y2="482"/><line x1="442.06" y1="417" x2="442.06" y2="482"/><line x1="445.30" y1="417" x2="445.30" y2="482"/><line x1="448.55" y1="417" x2="448.55" y2="482"/><line x1="451.79" y1="417" x2="451.79" y2="482"/><line x1="455.04" y1="417" x2="455.04" y2="482"/><line x1="458.28" y1="417" x2="458.28" y2="482"/><line x1="461.53" y1="417" x2="461.53" y2="482"/><line x1="464.77" y1="417" x2="464.77" y2="482"/><line x1="468.02" y1="417" x2="468.02" y2="482"/><line x1="471.26" y1="417" x2="471.26" y2="482"/><line x1="474.51" y1="417" x2="474.51" y2="482"/><line x1="477.75" y1="417" x2="477.75" y2="482"/><line x1="480.99" y1="417" x2="480.99" y2="482"/><line x1="484.24" y1="417" x2="484.24" y2="482"/><line x1="487.48" y1="417" x2="487.48" y2="482"/><line x1="490.73" y1="417" x2="490.73" y2="482"/><line x1="493.97" y1="417" x2="493.97" y2="482"/><line x1="497.22" y1="417" x2="497.22" y2="482"/><line x1="500.46" y1="417" x2="500.46" y2="482"/><line x1="503.71" y1="417" x2="503.71" y2="482"/><line x1="506.95" y1="417" x2="506.95" y2="482"/><line x1="510.20" y1="417" x2="510.20" y2="482"/><line x1="513.44" y1="417" x2="513.44" y2="482"/><line x1="516.69" y1="417" x2="516.69" y2="482"/><line x1="519.93" y1="417" x2="519.93" y2="482"/><line x1="523.18" y1="417" x2="523.18" y2="482"/><line x1="526.42" y1="417" x2="526.42" y2="482"/><line x1="529.67" y1="417" x2="529.67" y2="482"/><line x1="532.91" y1="417" x2="532.91" y2="482"/><line x1="536.16" y1="417" x2="536.16" y2="482"/><line x1="539.40" y1="417" x2="539.40" y2="482"/><line x1="542.65" y1="417" x2="542.65" y2="482"/><line x1="545.89" y1="417" x2="545.89" y2="482"/><line x1="549.14" y1="417" x2="549.14" y2="482"/><line x1="552.38" y1="417" x2="552.38" y2="482"/><line x1="555.62" y1="417" x2="555.62" y2="482"/><line x1="558.87" y1="417" x2="558.87" y2="482"/><line x1="562.11" y1="417" x2="562.11" y2="482"/><line x1="565.36" y1="417" x2="565.36" y2="482"/><line x1="568.60" y1="417" x2="568.60" y2="482"/><line x1="571.85" y1="417" x2="571.85" y2="482"/><line x1="575.09" y1="417" x2="575.09" y2="482"/><line x1="578.34" y1="417" x2="578.34" y2="482"/><line x1="581.58" y1="417" x2="581.58" y2="482"/><line x1="584.83" y1="417" x2="584.83" y2="482"/><line x1="588.07" y1="417" x2="588.07" y2="482"/><line x1="591.32" y1="417" x2="591.32" y2="482"/><line x1="594.56" y1="417" x2="594.56" y2="482"/><line x1="597.81" y1="417" x2="597.81" y2="482"/><line x1="601.05" y1="417" x2="601.05" y2="482"/><line x1="604.30" y1="417" x2="604.30" y2="482"/><line x1="607.54" y1="417" x2="607.54" y2="482"/><line x1="610.79" y1="417" x2="610.79" y2="482"/><line x1="614.03" y1="417" x2="614.03" y2="482"/><line x1="617.28" y1="417" x2="617.28" y2="482"/><line x1="620.52" y1="417" x2="620.52" y2="482"/><line x1="623.77" y1="417" x2="623.77" y2="482"/><line x1="627.01" y1="417" x2="627.01" y2="482"/><line x1="630.26" y1="417" x2="630.26" y2="482"/><line x1="633.50" y1="417" x2="633.50" y2="482"/><line x1="636.74" y1="417" x2="636.74" y2="482"/><line x1="639.99" y1="417" x2="639.99" y2="482"/><line x1="643.23" y1="417" x2="643.23" y2="482"/><line x1="646.48" y1="417" x2="646.48" y2="482"/><line x1="649.72" y1="417" x2="649.72" y2="482"/><line x1="652.97" y1="417" x2="652.97" y2="482"/><line x1="656.21" y1="417" x2="656.21" y2="482"/><line x1="659.46" y1="417" x2="659.46" y2="482"/><line x1="662.70" y1="417" x2="662.70" y2="482"/><line x1="665.95" y1="417" x2="665.95" y2="482"/><line x1="669.19" y1="417" x2="669.19" y2="482"/><line x1="672.44" y1="417" x2="672.44" y2="482"/><line x1="675.68" y1="417" x2="675.68" y2="482"/><line x1="678.93" y1="417" x2="678.93" y2="482"/><line x1="682.17" y1="417" x2="682.17" y2="482"/><line x1="685.42" y1="417" x2="685.42" y2="482"/><line x1="688.66" y1="417" x2="688.66" y2="482"/><line x1="691.91" y1="417" x2="691.91" y2="482"/><line x1="695.15" y1="417" x2="695.15" y2="482"/><line x1="698.40" y1="417" x2="698.40" y2="482"/><line x1="701.64" y1="417" x2="701.64" y2="482"/><line x1="704.89" y1="417" x2="704.89" y2="482"/><line x1="708.13" y1="417" x2="708.13" y2="482"/><line x1="711.38" y1="417" x2="711.38" y2="482"/><line x1="714.62" y1="417" x2="714.62" y2="482"/><line x1="717.86" y1="417" x2="717.86" y2="482"/><line x1="721.11" y1="417" x2="721.11" y2="482"/><line x1="724.35" y1="417" x2="724.35" y2="482"/><line x1="727.60" y1="417" x2="727.60" y2="482"/><line x1="730.84" y1="417" x2="730.84" y2="482"/><line x1="734.09" y1="417" x2="734.09" y2="482"/><line x1="737.33" y1="417" x2="737.33" y2="482"/><line x1="740.58" y1="417" x2="740.58" y2="482"/><line x1="743.82" y1="417" x2="743.82" y2="482"/><line x1="747.07" y1="417" x2="747.07" y2="482"/><line x1="750.31" y1="417" x2="750.31" y2="482"/><line x1="753.56" y1="417" x2="753.56" y2="482"/><line x1="756.80" y1="417" x2="756.80" y2="482"/><line x1="760.05" y1="417" x2="760.05" y2="482"/><line x1="763.29" y1="417" x2="763.29" y2="482"/><line x1="766.54" y1="417" x2="766.54" y2="482"/><line x1="769.78" y1="417" x2="769.78" y2="482"/><line x1="773.03" y1="417" x2="773.03" y2="482"/><line x1="776.27" y1="417" x2="776.27" y2="482"/><line x1="779.52" y1="417" x2="779.52" y2="482"/><line x1="782.76" y1="417" x2="782.76" y2="482"/><line x1="786.01" y1="417" x2="786.01" y2="482"/><line x1="789.25" y1="417" x2="789.25" y2="482"/><line x1="792.49" y1="417" x2="792.49" y2="482"/><line x1="795.74" y1="417" x2="795.74" y2="482"/><line x1="798.98" y1="417" x2="798.98" y2="482"/><line x1="802.23" y1="417" x2="802.23" y2="482"/><line x1="805.47" y1="417" x2="805.47" y2="482"/><line x1="808.72" y1="417" x2="808.72" y2="482"/><line x1="811.96" y1="417" x2="811.96" y2="482"/><line x1="815.21" y1="417" x2="815.21" y2="482"/><line x1="818.45" y1="417" x2="818.45" y2="482"/><line x1="821.70" y1="417" x2="821.70" y2="482"/><line x1="824.94" y1="417" x2="824.94" y2="482"/><line x1="828.19" y1="417" x2="828.19" y2="482"/><line x1="831.43" y1="417" x2="831.43" y2="482"/><line x1="834.68" y1="417" x2="834.68" y2="482"/><line x1="837.92" y1="417" x2="837.92" y2="482"/><line x1="841.17" y1="417" x2="841.17" y2="482"/><line x1="844.41" y1="417" x2="844.41" y2="482"/><line x1="847.66" y1="417" x2="847.66" y2="482"/><line x1="850.90" y1="417" x2="850.90" y2="482"/><line x1="854.15" y1="417" x2="854.15" y2="482"/><line x1="857.39" y1="417" x2="857.39" y2="482"/><line x1="860.64" y1="417" x2="860.64" y2="482"/><line x1="863.88" y1="417" x2="863.88" y2="482"/><line x1="867.12" y1="417" x2="867.12" y2="482"/><line x1="870.37" y1="417" x2="870.37" y2="482"/><line x1="873.61" y1="417" x2="873.61" y2="482"/><line x1="876.86" y1="417" x2="876.86" y2="482"/><line x1="880.10" y1="417" x2="880.10" y2="482"/><line x1="883.35" y1="417" x2="883.35" y2="482"/><line x1="886.59" y1="417" x2="886.59" y2="482"/><line x1="889.84" y1="417" x2="889.84" y2="482"/><line x1="893.08" y1="417" x2="893.08" y2="482"/><line x1="896.33" y1="417" x2="896.33" y2="482"/><line x1="899.57" y1="417" x2="899.57" y2="482"/><line x1="902.82" y1="417" x2="902.82" y2="482"/><line x1="906.06" y1="417" x2="906.06" y2="482"/><line x1="909.31" y1="417" x2="909.31" y2="482"/><line x1="912.55" y1="417" x2="912.55" y2="482"/><line x1="915.80" y1="417" x2="915.80" y2="482"/><line x1="919.04" y1="417" x2="919.04" y2="482"/><line x1="922.29" y1="417" x2="922.29" y2="482"/><line x1="925.53" y1="417" x2="925.53" y2="482"/><line x1="928.78" y1="417" x2="928.78" y2="482"/><line x1="932.02" y1="417" x2="932.02" y2="482"/><line x1="935.27" y1="417" x2="935.27" y2="482"/><line x1="938.51" y1="417" x2="938.51" y2="482"/><line x1="941.76" y1="417" x2="941.76" y2="482"/></g>
<g stroke="#2a303f" stroke-width="1.2" fill="none">
<line x1="10.5" y1="14" x2="10.5" y2="483"/>
<line x1="10" y1="14.5" x2="945.5" y2="14.5"/>
<line x1="945" y1="14" x2="945" y2="483"/>
<line x1="10" y1="482.8" x2="945.5" y2="482.8"/>
</g>
<line x1="11.5" y1="178.1" x2="945" y2="178.1" stroke="#a3a8b4" stroke-width="1.15" stroke-dasharray="1.2 4.3" />
<path d="M11.50 171.80 L15.40 164.20 L28.30 207.50 L34.50 194.00 L47.50 166.00 L52.00 165.40 L56.30 164.60 L59.10 160.30 L62.70 161.00 L65.70 158.50 L68.20 162.00 L73.60 170.00 L75.00 167.00 L80.00 163.70 L87.50 156.00 L90.00 153.00 L97.50 142.00 L100.25 140.00 L104.60 135.00 L107.10 110.00 L109.60 76.25 L110.90 66.25 L114.00 76.90 L117.10 75.00 L120.25 78.75 L123.40 86.25 L126.50 90.00 L130.25 86.25 L133.40 91.90 L137.10 92.50 L140.25 108.75 L143.40 122.50 L150.25 122.50 L152.75 114.40 L159.60 110.60 L162.60 122.20 L165.10 120.00 L168.85 130.00 L175.10 119.40 L178.75 126.25 L181.90 133.75 L185.00 150.00 L191.25 158.10 L196.90 155.00 L201.25 156.90 L205.00 160.00 L208.10 159.40 L210.60 152.50 L213.75 162.50 L215.60 173.75 L216.25 178.10 L217.50 186.90 L220.00 175.00 L226.25 176.90 L233.10 165.00 L236.90 173.75 L241.25 178.10 L245.80 190.60 L249.60 178.75 L255.00 179.40 L259.40 176.90 L262.25 207.50 L265.00 198.75 L268.75 203.75 L273.75 197.50 L281.25 188.10 L285.00 205.60 L291.25 214.40 L294.40 206.90 L298.10 203.10 L301.25 206.90 L304.00 195.00 L307.50 209.40 L310.00 205.00 L313.75 248.10 L317.50 237.50 L322.50 223.75 L326.90 187.50 L330.00 195.00 L333.10 200.60 L336.25 191.90 L339.40 206.25 L342.50 225.00 L346.25 220.00 L348.75 250.00 L352.50 260.00 L355.60 284.40 L359.40 283.75 L361.90 291.90 L365.60 273.10 L368.75 287.50 L371.90 295.60 L378.75 282.50 L381.25 298.75 L385.00 303.75 L390.60 325.00 L394.40 330.00 L397.50 318.10 L400.60 316.90 L405.00 312.50 L410.60 313.10 L413.75 301.25 L416.90 300.60 L420.00 316.25 L423.10 312.50 L426.25 315.00 L433.10 307.50 L436.25 321.25 L440.00 332.50 L445.60 365.00 L448.10 358.10 L451.90 353.75 L456.25 357.50 L459.40 352.50 L461.90 339.40 L465.60 332.50 L468.75 322.50 L471.25 310.00 L474.40 305.60 L478.10 325.00 L481.25 312.50 L484.40 316.90 L488.10 313.10 L491.25 296.90 L494.40 301.90 L497.50 302.50 L503.75 310.60 L506.90 305.00 L512.50 288.75 L515.00 290.00 L520.00 308.10 L523.10 308.10 L526.90 296.25 L530.00 293.10 L536.25 293.10 L539.40 315.00 L542.50 303.75 L545.60 311.25 L548.75 326.25 L551.90 319.40 L555.40 303.10 L558.75 313.75 L561.90 314.40 L565.00 306.25 L568.75 312.50 L574.40 365.00 L577.50 332.50 L581.90 316.90 L585.00 316.25 L590.60 339.40 L595.00 343.75 L600.00 347.50 L603.75 355.60 L606.90 347.50 L610.00 327.50 L613.75 320.60 L617.50 329.40 L620.00 330.00 L626.25 361.25 L630.00 350.00 L633.10 344.40 L635.60 346.90 L639.40 330.60 L645.00 330.60 L650.00 334.40 L652.50 332.50 L655.00 323.10 L658.10 325.60 L665.00 344.40 L668.10 340.60 L671.90 342.50 L675.00 326.25 L678.10 320.00 L681.25 329.40 L684.40 318.10 L688.10 318.75 L691.90 314.40 L696.90 310.00 L700.60 319.40 L704.40 318.10 L710.00 308.10 L716.25 322.20 L719.40 309.40 L723.10 308.75 L726.25 303.75 L731.25 311.25 L736.25 317.50 L739.40 308.75 L742.50 316.25 L745.60 317.50 L751.25 296.25 L754.40 293.10 L761.25 305.60 L764.40 303.10 L768.10 296.90 L771.90 298.10 L777.50 297.50 L780.60 287.50 L783.75 286.25 L787.50 288.75 L790.60 265.00 L793.10 273.10 L796.90 277.50 L803.75 269.40 L806.90 271.25 L813.10 279.40 L816.25 266.90 L819.40 265.00 L823.10 260.30 L826.25 263.10 L829.40 263.10 L832.50 267.50 L835.60 269.40 L839.40 261.25 L843.10 259.40 L845.60 266.25 L852.50 265.60 L855.00 270.00 L858.75 270.60 L861.25 281.25 L864.40 272.50 L868.10 274.40 L871.25 266.25 L874.40 263.75 L878.10 266.25 L884.40 265.60 L887.50 272.50 L890.60 286.25 L893.75 296.90 L896.90 289.40 L900.00 295.60 L903.75 300.00 L906.90 296.90 L910.00 291.90 L913.10 298.10 L916.25 290.60 L919.40 295.60 L923.10 286.90 L926.25 276.90 L929.40 276.90 L932.50 285.00 L935.60 308.10 L940.00 298.10 L944.50 291.50" fill="none" stroke="#69d6a1" stroke-width="2.8" stroke-linejoin="round" stroke-linecap="round" clip-path="url(#cu)"/>
<path d="M11.50 171.80 L15.40 164.20 L28.30 207.50 L34.50 194.00 L47.50 166.00 L52.00 165.40 L56.30 164.60 L59.10 160.30 L62.70 161.00 L65.70 158.50 L68.20 162.00 L73.60 170.00 L75.00 167.00 L80.00 163.70 L87.50 156.00 L90.00 153.00 L97.50 142.00 L100.25 140.00 L104.60 135.00 L107.10 110.00 L109.60 76.25 L110.90 66.25 L114.00 76.90 L117.10 75.00 L120.25 78.75 L123.40 86.25 L126.50 90.00 L130.25 86.25 L133.40 91.90 L137.10 92.50 L140.25 108.75 L143.40 122.50 L150.25 122.50 L152.75 114.40 L159.60 110.60 L162.60 122.20 L165.10 120.00 L168.85 130.00 L175.10 119.40 L178.75 126.25 L181.90 133.75 L185.00 150.00 L191.25 158.10 L196.90 155.00 L201.25 156.90 L205.00 160.00 L208.10 159.40 L210.60 152.50 L213.75 162.50 L215.60 173.75 L216.25 178.10 L217.50 186.90 L220.00 175.00 L226.25 176.90 L233.10 165.00 L236.90 173.75 L241.25 178.10 L245.80 190.60 L249.60 178.75 L255.00 179.40 L259.40 176.90 L262.25 207.50 L265.00 198.75 L268.75 203.75 L273.75 197.50 L281.25 188.10 L285.00 205.60 L291.25 214.40 L294.40 206.90 L298.10 203.10 L301.25 206.90 L304.00 195.00 L307.50 209.40 L310.00 205.00 L313.75 248.10 L317.50 237.50 L322.50 223.75 L326.90 187.50 L330.00 195.00 L333.10 200.60 L336.25 191.90 L339.40 206.25 L342.50 225.00 L346.25 220.00 L348.75 250.00 L352.50 260.00 L355.60 284.40 L359.40 283.75 L361.90 291.90 L365.60 273.10 L368.75 287.50 L371.90 295.60 L378.75 282.50 L381.25 298.75 L385.00 303.75 L390.60 325.00 L394.40 330.00 L397.50 318.10 L400.60 316.90 L405.00 312.50 L410.60 313.10 L413.75 301.25 L416.90 300.60 L420.00 316.25 L423.10 312.50 L426.25 315.00 L433.10 307.50 L436.25 321.25 L440.00 332.50 L445.60 365.00 L448.10 358.10 L451.90 353.75 L456.25 357.50 L459.40 352.50 L461.90 339.40 L465.60 332.50 L468.75 322.50 L471.25 310.00 L474.40 305.60 L478.10 325.00 L481.25 312.50 L484.40 316.90 L488.10 313.10 L491.25 296.90 L494.40 301.90 L497.50 302.50 L503.75 310.60 L506.90 305.00 L512.50 288.75 L515.00 290.00 L520.00 308.10 L523.10 308.10 L526.90 296.25 L530.00 293.10 L536.25 293.10 L539.40 315.00 L542.50 303.75 L545.60 311.25 L548.75 326.25 L551.90 319.40 L555.40 303.10 L558.75 313.75 L561.90 314.40 L565.00 306.25 L568.75 312.50 L574.40 365.00 L577.50 332.50 L581.90 316.90 L585.00 316.25 L590.60 339.40 L595.00 343.75 L600.00 347.50 L603.75 355.60 L606.90 347.50 L610.00 327.50 L613.75 320.60 L617.50 329.40 L620.00 330.00 L626.25 361.25 L630.00 350.00 L633.10 344.40 L635.60 346.90 L639.40 330.60 L645.00 330.60 L650.00 334.40 L652.50 332.50 L655.00 323.10 L658.10 325.60 L665.00 344.40 L668.10 340.60 L671.90 342.50 L675.00 326.25 L678.10 320.00 L681.25 329.40 L684.40 318.10 L688.10 318.75 L691.90 314.40 L696.90 310.00 L700.60 319.40 L704.40 318.10 L710.00 308.10 L716.25 322.20 L719.40 309.40 L723.10 308.75 L726.25 303.75 L731.25 311.25 L736.25 317.50 L739.40 308.75 L742.50 316.25 L745.60 317.50 L751.25 296.25 L754.40 293.10 L761.25 305.60 L764.40 303.10 L768.10 296.90 L771.90 298.10 L777.50 297.50 L780.60 287.50 L783.75 286.25 L787.50 288.75 L790.60 265.00 L793.10 273.10 L796.90 277.50 L803.75 269.40 L806.90 271.25 L813.10 279.40 L816.25 266.90 L819.40 265.00 L823.10 260.30 L826.25 263.10 L829.40 263.10 L832.50 267.50 L835.60 269.40 L839.40 261.25 L843.10 259.40 L845.60 266.25 L852.50 265.60 L855.00 270.00 L858.75 270.60 L861.25 281.25 L864.40 272.50 L868.10 274.40 L871.25 266.25 L874.40 263.75 L878.10 266.25 L884.40 265.60 L887.50 272.50 L890.60 286.25 L893.75 296.90 L896.90 289.40 L900.00 295.60 L903.75 300.00 L906.90 296.90 L910.00 291.90 L913.10 298.10 L916.25 290.60 L919.40 295.60 L923.10 286.90 L926.25 276.90 L929.40 276.90 L932.50 285.00 L935.60 308.10 L940.00 298.10 L944.50 291.50" fill="none" stroke="#e9545c" stroke-width="2.8" stroke-linejoin="round" stroke-linecap="round" clip-path="url(#cd)"/>
<!-- baseline label -->
<rect x="15.5" y="165" width="57" height="30.5" rx="7" fill="#1f2431"/>
<!-- price tag -->
<rect x="943.7" y="276" width="73.6" height="34" rx="4.5" fill="#e04c51"/>
<!-- CMC logo -->
<g fill="none" stroke="#d9dde8" stroke-width="3.1" stroke-linecap="round" stroke-linejoin="round">
<path d="M758.2 427.2 A14.7 14.7 0 1 1 762.8 417.9 C762.3 421.5 759 422.2 758.2 419.6 L756.3 413.2 Q755.3 410.6 753.7 413 L749.2 419.6 Q747.6 421.8 747.2 419.2 L746.6 413.2 Q746 410.4 744.3 413 L737.6 423.4"/>
</g>
<!-- mini chart -->
<g stroke="#232938" stroke-width="1.2" fill="none">
<line x1="10.5" y1="556.5" x2="944" y2="556.5"/>
<line x1="47.4" y1="556.5" x2="47.4" y2="611.5"/><line x1="138.9" y1="556.5" x2="138.9" y2="611.5"/><line x1="230.2" y1="556.5" x2="230.2" y2="611.5"/><line x1="321.6" y1="556.5" x2="321.6" y2="611.5"/><line x1="413.0" y1="556.5" x2="413.0" y2="611.5"/><line x1="504.3" y1="556.5" x2="504.3" y2="611.5"/><line x1="595.7" y1="556.5" x2="595.7" y2="611.5"/><line x1="687.1" y1="556.5" x2="687.1" y2="611.5"/><line x1="778.5" y1="556.5" x2="778.5" y2="611.5"/><line x1="869.9" y1="556.5" x2="869.9" y2="611.5"/>
</g>
<path d="M10.50 611.30 L130.00 611.25 L172.50 610.75 L181.25 608.00 L188.75 610.00 L201.25 608.00 L205.00 609.50 L218.75 608.25 L225.00 606.25 L228.75 602.50 L231.00 603.00 L233.75 600.00 L236.00 601.50 L240.00 602.00 L243.00 601.80 L246.25 603.00 L253.75 607.50 L261.25 603.75 L270.00 606.25 L282.50 607.50 L290.00 609.25 L305.00 610.00 L315.00 611.00 L345.00 610.25 L357.50 609.00 L370.00 609.00 L386.00 610.00 L413.50 610.50 L424.75 609.00 L432.25 610.50 L461.00 609.50 L469.75 607.50 L486.00 608.00 L496.00 606.40 L504.10 605.50 L506.60 599.50 L510.40 600.10 L517.25 591.40 L520.40 596.40 L522.90 592.60 L526.60 595.10 L531.00 585.75 L534.10 585.10 L537.90 572.60 L539.75 582.00 L543.50 582.00 L549.10 590.75 L551.60 589.50 L555.40 591.75 L559.75 581.40 L564.75 578.25 L566.60 572.00 L568.50 575.10 L571.00 575.10 L573.50 580.10 L576.00 573.25 L583.50 562.00 L585.75 568.25 L588.50 563.90 L592.25 569.50 L594.75 568.90 L598.50 576.40 L601.00 578.90 L603.75 586.40 L606.60 579.50 L609.75 584.50 L611.60 582.60 L614.10 584.50 L619.10 577.60 L624.00 580.75 L627.75 582.00 L629.60 590.75 L632.75 592.60 L636.50 593.25 L638.40 600.10 L642.75 600.10 L645.90 598.90 L647.75 594.50 L650.25 593.90 L653.40 592.00 L656.50 594.50 L660.25 595.10 L664.00 598.00 L669.00 598.25 L672.75 595.75 L677.75 599.25 L682.75 598.90 L688.40 599.25 L693.40 595.10 L699.00 594.50 L704.00 595.10 L705.25 596.40 L709.00 592.60 L714.00 590.75 L720.25 593.00 L727.75 592.60 L729.60 594.25 L732.75 592.25 L736.50 591.10 L742.75 592.60 L746.50 594.75 L752.00 595.10 L757.00 595.10 L760.10 596.40 L766.40 590.10 L769.50 590.75 L773.90 587.00 L777.00 588.50 L782.60 584.75 L786.40 588.90 L789.50 587.00 L793.90 577.60 L797.00 570.75 L800.10 575.10 L804.50 575.10 L807.00 578.90 L810.75 580.10 L813.90 581.40 L815.75 572.00 L819.50 572.00 L820.75 574.75 L823.90 575.10 L827.00 580.10 L829.50 576.00 L833.25 578.25 L835.75 584.25 L839.50 584.75 L843.25 587.60 L847.00 584.75 L849.50 587.25 L852.00 585.10 L855.75 585.50 L860.75 576.40 L865.75 571.00 L868.90 576.00 L872.00 575.75 L874.50 577.60 L877.60 577.00 L880.50 582.30 L883.25 583.00 L889.50 591.25 L893.25 591.25 L896.50 595.50 L900.50 592.00 L905.00 585.20 L908.60 586.00 L911.70 584.40 L915.60 585.60 L921.10 575.00 L925.00 571.10 L928.10 564.00 L931.25 566.00 L935.20 563.30 L938.30 569.50 L941.40 564.00 L943.50 566.00 L943.5 610.8 L10.5 610.8 Z" fill="#1f2640"/>
<path d="M10.50 611.30 L130.00 611.25 L172.50 610.75 L181.25 608.00 L188.75 610.00 L201.25 608.00 L205.00 609.50 L218.75 608.25 L225.00 606.25 L228.75 602.50 L231.00 603.00 L233.75 600.00 L236.00 601.50 L240.00 602.00 L243.00 601.80 L246.25 603.00 L253.75 607.50 L261.25 603.75 L270.00 606.25 L282.50 607.50 L290.00 609.25 L305.00 610.00 L315.00 611.00 L345.00 610.25 L357.50 609.00 L370.00 609.00 L386.00 610.00 L413.50 610.50 L424.75 609.00 L432.25 610.50 L461.00 609.50 L469.75 607.50 L486.00 608.00 L496.00 606.40 L504.10 605.50 L506.60 599.50 L510.40 600.10 L517.25 591.40 L520.40 596.40 L522.90 592.60 L526.60 595.10 L531.00 585.75 L534.10 585.10 L537.90 572.60 L539.75 582.00 L543.50 582.00 L549.10 590.75 L551.60 589.50 L555.40 591.75 L559.75 581.40 L564.75 578.25 L566.60 572.00 L568.50 575.10 L571.00 575.10 L573.50 580.10 L576.00 573.25 L583.50 562.00 L585.75 568.25 L588.50 563.90 L592.25 569.50 L594.75 568.90 L598.50 576.40 L601.00 578.90 L603.75 586.40 L606.60 579.50 L609.75 584.50 L611.60 582.60 L614.10 584.50 L619.10 577.60 L624.00 580.75 L627.75 582.00 L629.60 590.75 L632.75 592.60 L636.50 593.25 L638.40 600.10 L642.75 600.10 L645.90 598.90 L647.75 594.50 L650.25 593.90 L653.40 592.00 L656.50 594.50 L660.25 595.10 L664.00 598.00 L669.00 598.25 L672.75 595.75 L677.75 599.25 L682.75 598.90 L688.40 599.25 L693.40 595.10 L699.00 594.50 L704.00 595.10 L705.25 596.40 L709.00 592.60 L714.00 590.75 L720.25 593.00 L727.75 592.60 L729.60 594.25 L732.75 592.25 L736.50 591.10 L742.75 592.60 L746.50 594.75 L752.00 595.10 L757.00 595.10 L760.10 596.40 L766.40 590.10 L769.50 590.75 L773.90 587.00 L777.00 588.50 L782.60 584.75 L786.40 588.90 L789.50 587.00 L793.90 577.60 L797.00 570.75 L800.10 575.10 L804.50 575.10 L807.00 578.90 L810.75 580.10 L813.90 581.40 L815.75 572.00 L819.50 572.00 L820.75 574.75 L823.90 575.10 L827.00 580.10 L829.50 576.00 L833.25 578.25 L835.75 584.25 L839.50 584.75 L843.25 587.60 L847.00 584.75 L849.50 587.25 L852.00 585.10 L855.75 585.50 L860.75 576.40 L865.75 571.00 L868.90 576.00 L872.00 575.75 L874.50 577.60 L877.60 577.00 L880.50 582.30 L883.25 583.00 L889.50 591.25 L893.25 591.25 L896.50 595.50 L900.50 592.00 L905.00 585.20 L908.60 586.00 L911.70 584.40 L915.60 585.60 L921.10 575.00 L925.00 571.10 L928.10 564.00 L931.25 566.00 L935.20 563.30 L938.30 569.50 L941.40 564.00 L943.50 566.00" fill="none" stroke="#6287ea" stroke-width="1.9" stroke-linejoin="round" stroke-linecap="round"/>
<!-- pause -->
<rect x="934.3" y="569.8" width="16.7" height="27.1" rx="8.3" fill="#191e2c"/>
<g stroke="#c3c6cf" stroke-width="1.5"><line x1="939.9" y1="578.6" x2="939.9" y2="588"/><line x1="944.1" y1="578.6" x2="944.1" y2="588"/></g>
<!-- badge 85 -->
<path d="M11 534.3 L22.6 521 Q25.4 517.8 30.5 517.8 L57.5 517.8 A16.5 16.5 0 0 1 57.5 550.8 L30.5 550.8 Q25.4 550.8 22.6 547.6 Z" fill="#6b7186"/>
<g fill="none" stroke="#ffffff" stroke-width="1.75" stroke-linecap="round" stroke-linejoin="round">
<path d="M26.1 531.6 A7 7 0 1 1 27.3 538.2"/>
<path d="M32.6 529.9 L32.6 533.8 L35.9 535.5"/>
</g>
<path d="M24.2 530.4 L27.6 530.2 L26.2 533.5 Z" fill="#ffffff" stroke="#ffffff" stroke-width="0.5" stroke-linejoin="round"/>
<!-- analyze -->
<path d="M840.7 518 L879 518 L883.3 513.3 L887.6 518 L926 518 A16.15 16.15 0 0 1 926 550.3 L840.7 550.3 A16.15 16.15 0 0 1 840.7 518 Z" fill="#3d6df2"/>
<g fill="none" stroke="#ffffff" stroke-width="1.7" stroke-linecap="round" stroke-linejoin="round">
<path d="M849.1 540.8 A8.4 8.4 0 0 1 838.9 541.3 L835.2 542.6 L836.1 538 A8.4 8.4 0 1 1 852 535.9" stroke-width="1.6"/>
<path d="M852 535.9 Q850.5 538.3 849.4 536.2 L848 532.4 Q847.3 530.8 846.4 532.4 L844.3 536.2 Q843.6 537.3 843.3 536 L842.9 532.4 Q842.4 530.7 841.5 532.4 L839.2 536.6" stroke-width="1.9"/>
<path d="M921.6 530.8 L926.8 535.8 L921.6 540.8" stroke-width="2"/>
</g>
<!-- watermark -->
<path d="M916.6 605.3 Q929 608.6 943.2 605.4" fill="none" stroke="#74777f" stroke-width="1.5" stroke-linecap="round"/>
<path fill-rule="evenodd" fill="#74777f" d="M919 626.4 A15.4 15.4 0 1 0 949.8 626.4 A15.4 15.4 0 1 0 919 626.4 Z M926.3 627.3 A8.9 11 0 1 1 944.1 627.3 A8.9 11 0 1 1 926.3 627.3 Z"/>
<path d="M928 612.4 Q937 607 949.2 609.7 Q944 612 941 617.4 L933 614.5 Z" fill="#74777f"/>
<path d="M942.2 616.6 Q945 612.6 950.2 611.2" fill="none" stroke="#0d1421" stroke-width="1.3"/>
<path d="M921.6 633 Q919.6 622 927 614.4" fill="none" stroke="#0d1421" stroke-width="0.8" opacity="0.8"/>
<path d="M934.5 622.8 L935.8 626.3 L939.3 627.6 L935.8 628.9 L934.5 632.4 L933.2 628.9 L929.7 627.6 L933.2 626.3 Z" fill="#74777f"/>
<g stroke="#74777f" stroke-width="1"><line x1="954" y1="636.6" x2="966" y2="636.6"/><line x1="1012" y1="636.6" x2="1024" y2="636.6"/></g>
</svg>
<div class="t yl" style="top:72.7px;letter-spacing:0.55px">4,200.0</div>
<div class="t yl" style="top:129.0px;letter-spacing:-0.22px">4,150.0</div>
<div class="t yl" style="top:186.3px;letter-spacing:-0.1px">4,100.0</div>
<div class="t yl" style="top:241.6px;letter-spacing:0.45px">4,050.0</div>
<div class="t yl" style="top:355.0px;letter-spacing:0.5px">3,950.0</div>
<div class="t yl" style="top:411.9px;letter-spacing:0.5px">3,900.0</div>
<div class="t xl" style="left:127px;letter-spacing:-0.28px">12:00 PM</div>
<div class="t xl" style="left:281.5px;letter-spacing:-0.17px">4:00 PM</div>
<div class="t xl" style="left:436.3px;letter-spacing:-0.2px">8:00 PM</div>
<div class="t xl" style="left:590.9px;letter-spacing:-0.5px">16 Oct</div>
<div class="t xl" style="left:745.7px;letter-spacing:0.1px">4:00 AM</div>
<div class="t xl" style="left:900.5px;letter-spacing:0.08px">8:00 AM</div>
<div class="t yr" style="left:48.025px;letter-spacing:-0.35px">2016</div>
<div class="t yr" style="left:139.525px;letter-spacing:-0.35px">2017</div>
<div class="t yr" style="left:230.85px;letter-spacing:-0.3px">2018</div>
<div class="t yr" style="left:322.25000000000006px;letter-spacing:-0.3px">2019</div>
<div class="t yr" style="left:413.875px;letter-spacing:0.15px">2020</div>
<div class="t yr" style="left:504.90000000000003px;letter-spacing:-0.4px">2021</div>
<div class="t yr" style="left:596.5px;letter-spacing:0.0px">2022</div>
<div class="t yr" style="left:687.9499999999999px;letter-spacing:0.1px">2023</div>
<div class="t yr" style="left:779.3499999999999px;letter-spacing:0.1px">2024</div>
<div class="t yr" style="left:870.8249999999999px;letter-spacing:0.25px">2025</div>
<div class="t" style="left:19.8px;top:179.8px;font-size:15px;transform:translateY(-50%);color:#a7acb9;-webkit-text-stroke:0.3px #a7acb9;letter-spacing:-0.35px">4,107.0</div>
<div class="t" style="left:952.2px;top:294.2px;font-size:15.5px;letter-spacing:0.5px;transform:translateY(-50%);color:#ffffff;-webkit-text-stroke:0.3px #fff">4,004.4</div>
<div class="t" style="left:962px;top:478px;font-size:15.6px;font-weight:700;-webkit-text-stroke:0;transform:translateY(-50%);color:#a1a7b5">USD</div>
<div class="t" style="left:774.5px;top:417.3px;font-size:20.3px;font-weight:700;-webkit-text-stroke:0;transform:translateY(-50%);color:#d9dde8">CoinMarketCap</div>
<div class="t" style="left:46.9px;top:535.3px;font-size:15.6px;letter-spacing:0.4px;transform:translateY(-50%);color:#ffffff;-webkit-text-stroke:0.45px #fff">85</div>
<div class="t" style="left:857.9px;top:534.0px;font-size:14.9px;letter-spacing:0.5px;transform:translateY(-50%);color:#ffffff;-webkit-text-stroke:0.5px #fff">Analyze</div>
<div class="t" style="left:955.6px;top:617.6px;font-size:20.5px;font-weight:700;transform:translateY(-50%);color:#74777f;letter-spacing:3.1px;-webkit-text-stroke:0">币圈网</div>
<div class="t" style="left:966.9px;top:636.7px;font-size:9px;font-weight:700;transform-origin:0 50%;transform:translateY(-50%) scaleX(0.79);color:#74777f;-webkit-text-stroke:0">ALIBTC.COM</div>
</body>
</html>
